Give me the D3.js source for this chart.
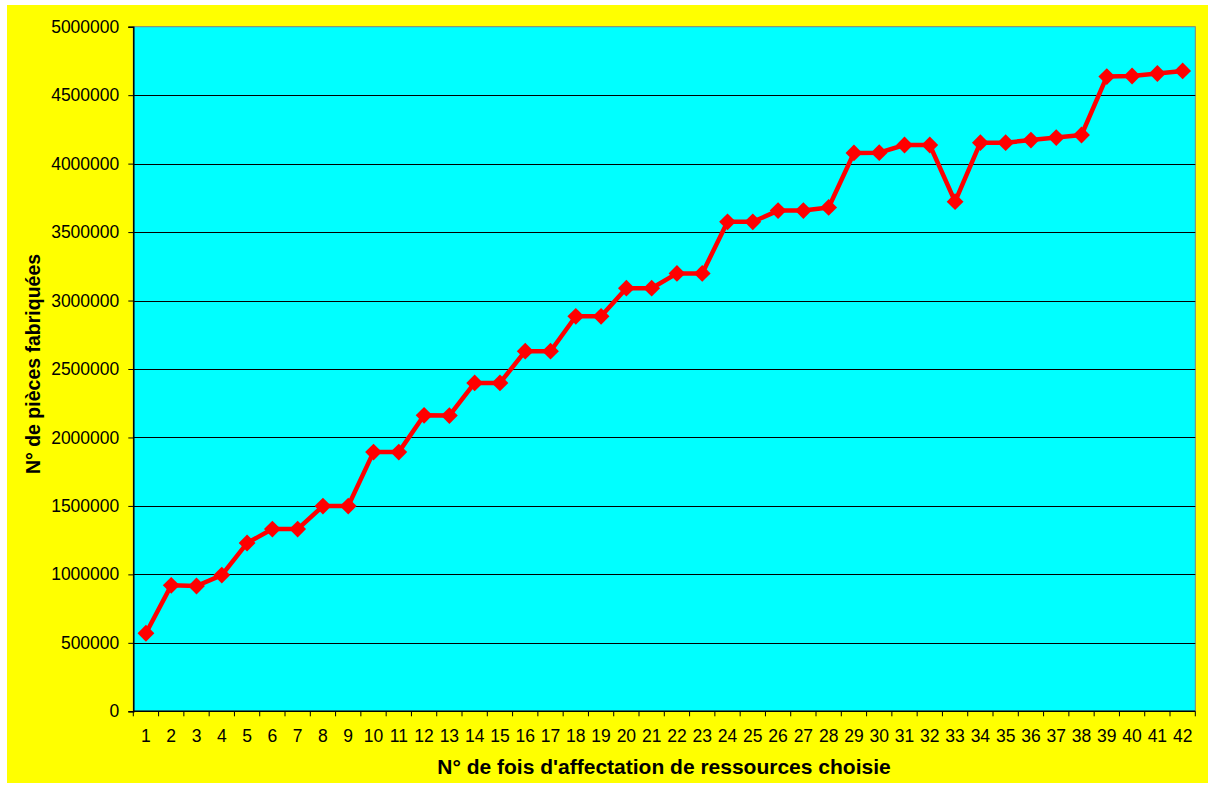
<!DOCTYPE html>
<html>
<head>
<meta charset="utf-8">
<script src="https://cdn.jsdelivr.net/npm/d3@7"></script>
<style>
  html, body { margin: 0; padding: 0; background: #ffffff; }
  svg { display: block; }
  text { font-family: "Liberation Sans", Arial, sans-serif; fill: #000; }
</style>
</head>
<body>
<svg id="chart" width="1208" height="787"></svg>
<script>
// Production count per resource-assignment iteration
const categories = d3.range(1, 43);
const values = [
  570000, 920000, 915000, 995000, 1229000, 1331000, 1331000, 1499000, 1499000, 1893000,
  1893000, 2162000, 2160000, 2398000, 2398000, 2630000, 2630000, 2885000, 2885000, 3090000,
  3090000, 3198000, 3198000, 3575000, 3575000, 3657000, 3657000, 3680000, 4078000, 4080000,
  4136000, 4136000, 3722000, 4153000, 4153000, 4172000, 4190000, 4209000, 4636000, 4640000,
  4658000, 4677000
];
const yTicks = d3.range(0, 5000001, 500000);
const xTitle = "N° de fois d'affectation de ressources choisie";
const yTitle = "N° de pièces fabriquées";

const svg = d3.select("#chart");

// Chart background
svg.append("rect")
  .attr("x", 7).attr("y", 5)
  .attr("width", 1201).attr("height", 778)
  .attr("fill", "#ffff00");

const plot = { left: 133.3, top: 26.7, right: 1195.3, bottom: 711.3 };

const x = d3.scaleBand()
  .domain(categories)
  .range([plot.left, plot.right])
  .padding(0);

const y = d3.scaleLinear()
  .domain([0, 5000000])
  .range([plot.bottom, plot.top]);

// Plot area
svg.append("rect")
  .attr("x", plot.left).attr("y", plot.top)
  .attr("width", plot.right - plot.left)
  .attr("height", plot.bottom - plot.top)
  .attr("fill", "#00ffff")
  .attr("stroke", "#808080")
  .attr("stroke-width", 1);

// Horizontal gridlines
svg.append("g")
  .selectAll("line")
  .data(yTicks.filter(d => d > 0 && d < 5000000))
  .join("line")
  .attr("x1", plot.left).attr("x2", plot.right)
  .attr("y1", d => Math.round(y(d)) + 0.5)
  .attr("y2", d => Math.round(y(d)) + 0.5)
  .attr("stroke", "#000")
  .attr("stroke-width", 1);

// Y axis
const yAxis = d3.axisLeft(y)
  .tickValues(yTicks)
  .tickFormat(d3.format("d"))
  .tickSize(5)
  .tickPadding(9);
const gy = svg.append("g")
  .attr("transform", `translate(${plot.left},0)`)
  .call(yAxis);
gy.select(".domain").attr("stroke", "#000").attr("stroke-width", 1.5);
gy.selectAll(".tick line").attr("stroke", "#000");
gy.selectAll(".tick text")
  .attr("font-size", "17.5px")
  .attr("font-family", "Liberation Sans, Arial, sans-serif")
  .attr("fill", "#000");

// X axis: ticks between categories, labels centred on each category
const gx = svg.append("g")
  .attr("transform", `translate(0,${plot.bottom})`);
gx.append("line")
  .attr("x1", plot.left).attr("x2", plot.right)
  .attr("y1", 0).attr("y2", 0)
  .attr("stroke", "#000").attr("stroke-width", 1.5);
const boundaries = categories.map(c => x(c)).concat([x(categories[categories.length - 1]) + x.bandwidth()]);
gx.selectAll("line.tick")
  .data(boundaries)
  .join("line")
  .attr("class", "tick")
  .attr("x1", d => d).attr("x2", d => d)
  .attr("y1", 0).attr("y2", 5)
  .attr("stroke", "#000");
gx.selectAll("text")
  .data(categories)
  .join("text")
  .attr("x", d => x(d) + x.bandwidth() / 2)
  .attr("y", 31)
  .attr("text-anchor", "middle")
  .attr("font-size", "17.5px")
  .text(d => d);

// Axis titles
svg.append("text")
  .attr("x", 664)
  .attr("y", 774)
  .attr("text-anchor", "middle")
  .attr("font-size", "21px")
  .attr("font-weight", "bold")
  .text(xTitle);

svg.append("text")
  .attr("transform", "translate(40,364) rotate(-90)")
  .attr("text-anchor", "middle")
  .attr("font-size", "19.5px")
  .attr("font-weight", "bold")
  .text(yTitle);

// Series line
const cx = d => x(d) + x.bandwidth() / 2;
const line = d3.line()
  .x((d, i) => cx(categories[i]))
  .y(d => y(d));

svg.append("path")
  .datum(values)
  .attr("d", line)
  .attr("fill", "none")
  .attr("stroke", "#ff0000")
  .attr("stroke-width", 4.5)
  .attr("stroke-linejoin", "round");

// Diamond markers
const diamond = d3.symbol().type(d3.symbolDiamond2).size(180);
svg.append("g")
  .selectAll("path")
  .data(values)
  .join("path")
  .attr("transform", (d, i) => `translate(${cx(categories[i])},${y(d)})`)
  .attr("d", diamond)
  .attr("fill", "#ff0000");
</script>
</body>
</html>
